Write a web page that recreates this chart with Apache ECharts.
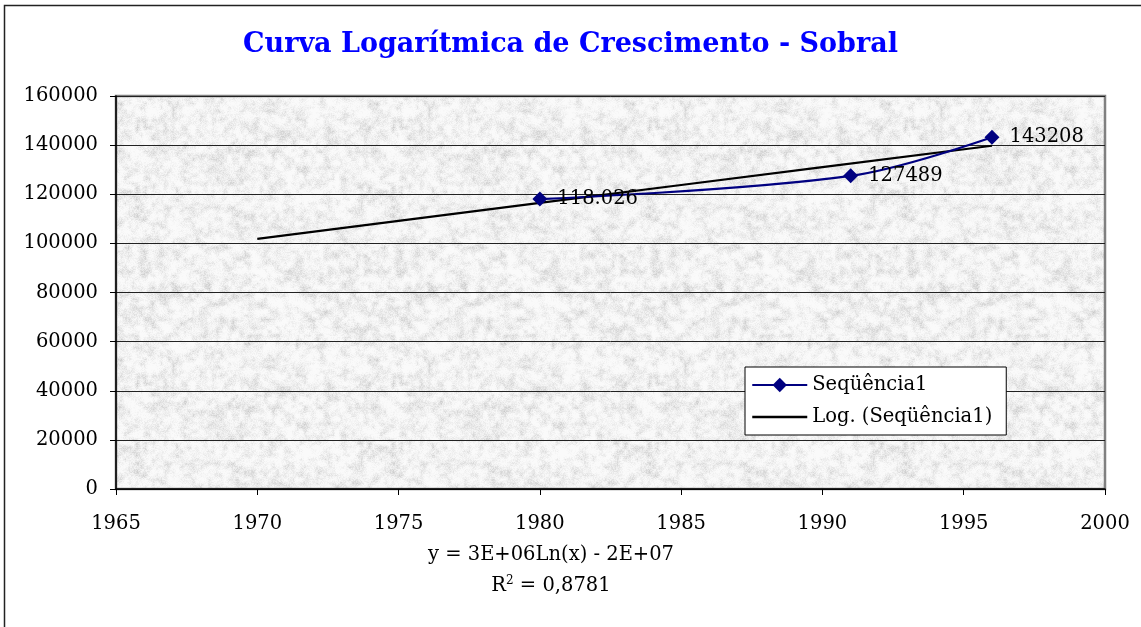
<!DOCTYPE html>
<html>
<head>
<meta charset="utf-8">
<script src="https://cdn.jsdelivr.net/npm/echarts@6/dist/echarts.min.js"></script>
<style>
  html, body { margin: 0; padding: 0; background: #fff; }
  #chart { width: 1141px; height: 627px; }
</style>
</head>
<body>
<div id="chart"></div>
<script>
// Population of Sobral by census year
const years = [1980, 1991, 1996];
const population = [118026, 127489, 143208];
const pointLabels = ['118.026', '127489', '143208'];

// Logarithmic trend line of the series
const trendYears = [1970, 1975, 1980, 1985, 1990, 1996];
const trendValues = [101814, 109151, 116467, 123766, 131047, 139758];

const equationText = 'y = 3E+06Ln(x) - 2E+07';
const r2Value = '0,8781';

const yTicks = { min: 0, max: 160000, interval: 20000 };
const xTicks = { min: 1965, max: 2000, interval: 5 };

// Granite-like paper texture for the plot background (deterministic hash noise)
function makeTexture() {
  const size = 256;
  const c = document.createElement('canvas');
  c.width = size; c.height = size;
  const ctx = c.getContext('2d');
  const img = ctx.createImageData(size, size);
  function hash(x, y) {
    const v = Math.sin(x * 12.9898 + y * 78.233) * 43758.5453;
    return v - Math.floor(v);
  }
  function smooth(x, y, s) {
    const n = size / s;
    const gx = Math.floor(x / s), gy = Math.floor(y / s);
    const fx = x / s - gx, fy = y / s - gy;
    const a = hash(gx % n, gy % n), b = hash((gx + 1) % n, gy % n);
    const d = hash(gx % n, (gy + 1) % n), e = hash((gx + 1) % n, (gy + 1) % n);
    return (a * (1 - fx) + b * fx) * (1 - fy) + (d * (1 - fx) + e * fx) * fy;
  }
  for (let y = 0; y < size; y++) {
    for (let x = 0; x < size; x++) {
      const coarse = smooth(x, y, 8);
      const mid = smooth(x + 3, y + 5, 4);
      const fine = hash(x + 101, y + 37);
      const v = coarse * 0.35 + mid * 0.4 + fine * 0.25;
      let g = 250 - Math.pow(Math.max(0, v - 0.3) / 0.7, 1.6) * 58;
      g = Math.max(196, Math.min(252, g));
      const i = (y * size + x) * 4;
      img.data[i] = g; img.data[i + 1] = g; img.data[i + 2] = g; img.data[i + 3] = 255;
    }
  }
  ctx.putImageData(img, 0, 0);
  return c;
}

const chart = echarts.init(document.getElementById('chart'), null, { renderer: 'canvas' });
const font = '"DejaVu Serif", serif';
const fs = 19.5;

chart.setOption({
  backgroundColor: '#ffffff',
  animation: false,
  textStyle: { fontFamily: font },
  title: {
    text: 'Curva Logarítmica de Crescimento - Sobral',
    left: 'center',
    top: 26,
    textStyle: { color: '#0000ff', fontSize: 27, fontWeight: 'bold', fontFamily: font }
  },
  grid: {
    left: 116, right: 36, top: 96, bottom: 138,
    show: true,
    backgroundColor: { image: makeTexture(), repeat: 'repeat' },
    borderColor: '#808080',
    borderWidth: 2.5
  },
  legend: {
    orient: 'vertical',
    left: 745, top: 367,
    backgroundColor: '#ffffff',
    borderColor: '#000000',
    borderWidth: 1,
    borderRadius: 0,
    padding: [8, 14, 8, 6],
    itemGap: 12,
    itemWidth: 55,
    itemHeight: 18,
    textStyle: { fontSize: fs, color: '#000', fontFamily: font },
    data: [
      { name: 'Seqüência1', lineStyle: { width: 2 } },
      { name: 'Log. (Seqüência1)', lineStyle: { width: 2.5 }, itemStyle: { color: 'rgba(0,0,0,0)', borderWidth: 0 } }
    ]
  },
  xAxis: {
    type: 'value',
    min: xTicks.min, max: xTicks.max, interval: xTicks.interval,
    axisLine: { show: true, lineStyle: { color: '#000', width: 1.5 } },
    axisTick: { show: true, length: 6, lineStyle: { color: '#000' } },
    axisLabel: { fontSize: fs, color: '#000', margin: 25, fontFamily: font, formatter: v => String(v) },
    splitLine: { show: false }
  },
  yAxis: {
    type: 'value',
    min: yTicks.min, max: yTicks.max, interval: yTicks.interval,
    axisLine: { show: true, lineStyle: { color: '#000', width: 1.5 } },
    axisTick: { show: true, length: 6, lineStyle: { color: '#000' } },
    axisLabel: { fontSize: fs, color: '#000', margin: 18, fontFamily: font, formatter: v => String(v) },
    splitLine: { show: true, lineStyle: { color: '#222', width: 1 } }
  },
  series: [
    {
      name: 'Log. (Seqüência1)',
      type: 'line',
      data: trendYears.map((x, i) => [x, trendValues[i]]),
      showSymbol: false,
      symbol: 'none',
      lineStyle: { color: '#000000', width: 2.2 },
      itemStyle: { color: '#000000' },
      z: 3
    },
    {
      name: 'Seqüência1',
      type: 'line',
      data: years.map((x, i) => [x, population[i]]),
      smooth: 0.35,
      symbol: 'diamond',
      symbolSize: 15,
      lineStyle: { color: '#000080', width: 2.2 },
      itemStyle: { color: '#000080' },
      label: {
        show: true,
        position: 'right',
        distance: 10,
        fontSize: fs,
        color: '#000',
        fontFamily: font,
        formatter: p => pointLabels[p.dataIndex]
      },
      z: 4
    }
  ],
  graphic: [
    // chart frame: top and left edges
    {
      type: 'polyline',
      shape: { points: [[4.5, 627], [4.5, 5.5], [1141, 5.5]] },
      style: { fill: 'none', stroke: '#222', lineWidth: 1.5 },
      silent: true
    },
    {
      type: 'text',
      style: {
        text: equationText,
        x: 551, y: 555,
        align: 'center', verticalAlign: 'middle',
        font: fs + 'px ' + font,
        fill: '#000'
      }
    },
    {
      type: 'text',
      style: {
        x: 551, y: 586,
        align: 'center', verticalAlign: 'middle',
        text: '{n|R}{s|2}{n| = ' + r2Value + '}',
        rich: {
          n: { fontSize: fs, fontFamily: font, fill: '#000' },
          s: { fontSize: 12, fontFamily: font, fill: '#000', padding: [0, 0, 10, 0] }
        }
      }
    }
  ]
});
</script>
</body>
</html>
